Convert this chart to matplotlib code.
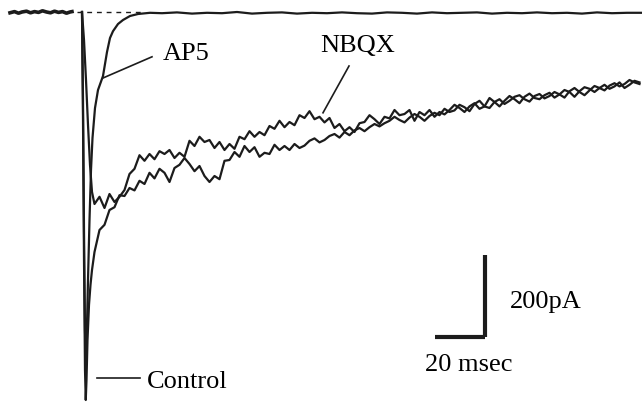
import matplotlib
matplotlib.use("Agg")
import matplotlib.pyplot as plt
import numpy as np

# Registro de corrientes sinápticas: Control, AP5 y NBQX
# tiempo en ms (0 = estímulo), corriente en pA

# --- línea de base antes del estímulo ---
t_pre = [-28.8, -27.0, -25.4, -24.0, -22.2, -20.6, -19.0, -17.4, -15.8, -14.2,
         -12.6, -11.0, -9.4, -7.8, -6.2, -4.8, -4.0]
i_pre = [-2, 1, -3, 0, 2, -2, 1, -1, 3, 0, -2, 2, -1, 1, -3, 0, 1]

# --- inicio de las respuestas ---
t_ctrl_on = [0.0, 0.4, 0.8, 1.2, 1.5, 1.8, 2.2, 2.8, 3.4, 4.0]
i_ctrl_on = [0, -270, -620, -895, -970, -920, -820, -732, -682, -645]

t_nbqx_on = [0.0, 0.8, 1.6, 2.4, 3.2, 4.0]
i_nbqx_on = [0, -70, -170, -282, -382, -450]

t_ap5 = [0.0, 0.4, 0.8, 1.2, 1.5, 1.9, 2.4, 3.0, 3.6, 4.2, 5.2, 6.4, 8.4, 10.0,
         11.2, 12.4, 14.4, 16.4, 19.2, 22.4, 27.2, 32, 38, 44, 50, 56, 62, 68,
         74, 80, 86, 92, 98, 104, 110, 116, 122, 128, 134, 140, 146, 152, 158,
         164, 170, 176, 182, 188, 194, 200, 206, 212, 218, 224]
i_ap5 = [0, -220, -545, -795, -870, -808, -670, -520, -395, -315, -240, -195,
         -160, -100, -65, -48, -30, -20, -10, -5, -2, -3, -1, -4, -2, -3, 0, -4,
         -2, -1, -4, -2, -3, -1, -3, -4, -1, -2, -4, -1, -3, -2, -1, -4, -2, -3,
         -1, -3, -2, -4, -1, -3, -2, -2]

# --- colas (muestras cada 2 ms desde 5 ms) ---
t_cola = [5, 7, 9, 11, 13, 15, 17, 19, 21, 23, 25, 27, 29, 31, 33, 35, 37, 39,
          41, 43, 45, 47, 49, 51, 53, 55, 57, 59, 61, 63, 65, 67, 69, 71, 73,
          75, 77, 79, 81, 83, 85, 87, 89, 91, 93, 95, 97, 99, 101, 103, 105,
          107, 109, 111, 113, 115, 117, 119, 121, 123, 125, 127, 129, 131, 133,
          135, 137, 139, 141, 143, 145, 147, 149, 151, 153, 155, 157, 159, 161,
          163, 165, 167, 169, 171, 173, 175, 177, 179, 181, 183, 185, 187, 189,
          191, 193, 195, 197, 199, 201, 203, 205, 207, 209, 211, 213, 215, 217,
          219, 221, 223]

i_nbqx = [-480, -462, -490, -455, -475, -462, -445, -405, -392, -358,
          -372, -355, -368, -348, -355, -345, -365, -352, -362, -322,
          -335, -312, -325, -320, -340, -325, -345, -330, -342, -312,
          -318, -298, -312, -300, -308, -285, -292, -272, -288, -275,
          -283, -258, -265, -248, -268, -262, -276, -265, -290, -280,
          -298, -288, -300, -278, -275, -258, -268, -280, -262, -266,
          -245, -258, -255, -245, -272, -250, -258, -245, -262, -250,
          -256, -245, -232, -240, -250, -236, -228, -242, -236, -215,
          -225, -236, -222, -210, -218, -228, -212, -204, -215, -218,
          -208, -202, -214, -206, -195, -200, -212, -198, -188, -192,
          -200, -190, -182, -192, -186, -176, -190, -182, -172, -176]

i_ctrl = [-600, -545, -532, -495, -488, -458, -460, -440, -446, -422,
          -430, -402, -416, -392, -402, -425, -390, -382, -365, -380,
          -398, -385, -410, -425, -410, -418, -372, -370, -350, -362,
          -335, -350, -338, -362, -352, -355, -332, -345, -335, -345,
          -330, -340, -334, -322, -316, -326, -320, -310, -305, -314,
          -300, -308, -296, -290, -298, -288, -280, -286, -278, -272,
          -262, -270, -276, -264, -255, -262, -272, -260, -252, -258,
          -242, -250, -246, -232, -238, -248, -230, -222, -236, -240,
          -225, -218, -230, -222, -212, -208, -218, -224, -210, -205,
          -216, -210, -200, -206, -214, -198, -190, -200, -208, -196,
          -185, -190, -196, -184, -178, -186, -180, -170, -176, -180]

color = "#1c1c1c"
fuente = "Liberation Serif"
tam = 19

fig = plt.figure(figsize=(6.42, 4.04), dpi=100)
ax = fig.add_axes([0, 0, 1, 1])

ax.plot(t_pre, i_pre, color=color, lw=2.6)
ax.plot([-2, 25], [0, 0], color=color, lw=1.0, ls=(0, (3.5, 3.5)))

ax.plot(t_ctrl_on + t_cola, i_ctrl_on + i_ctrl, color=color, lw=1.6)
ax.plot(t_nbqx_on + t_cola, i_nbqx_on + i_nbqx, color=color, lw=1.6)
ax.plot(t_ap5, i_ap5, color=color, lw=1.6)

# señaladores
ax.plot([8.4, 28.0], [-165, -112], color=color, lw=1.2)
ax.plot([96.4, 106.8], [-252, -135], color=color, lw=1.2)
ax.plot([6.0, 23.2], [-915, -915], color=color, lw=1.2)

ax.text(32.4, -105, "AP5", fontsize=tam, family=fuente, va="center", ha="left")
ax.text(95.2, -85, "NBQX", fontsize=tam, family=fuente, va="center", ha="left")
ax.text(26.0, -925, "Control", fontsize=tam, family=fuente, va="center", ha="left")

# barras de escala
ax.plot([161.2, 161.2], [-607.5, -812.5], color=color, lw=3, solid_capstyle="butt")
ax.plot([141.2, 161.2], [-812.5, -812.5], color=color, lw=3, solid_capstyle="butt")
ax.text(171.2, -725, "200pA", fontsize=tam, family=fuente, va="center", ha="left")
ax.text(137.2, -882, "20 msec", fontsize=tam, family=fuente, va="center", ha="left")

ax.set_xlim(-32.8, 224)
ax.set_ylim(-980, 30)
ax.axis("off")

fig.savefig("out.png", dpi=100, facecolor="white")
